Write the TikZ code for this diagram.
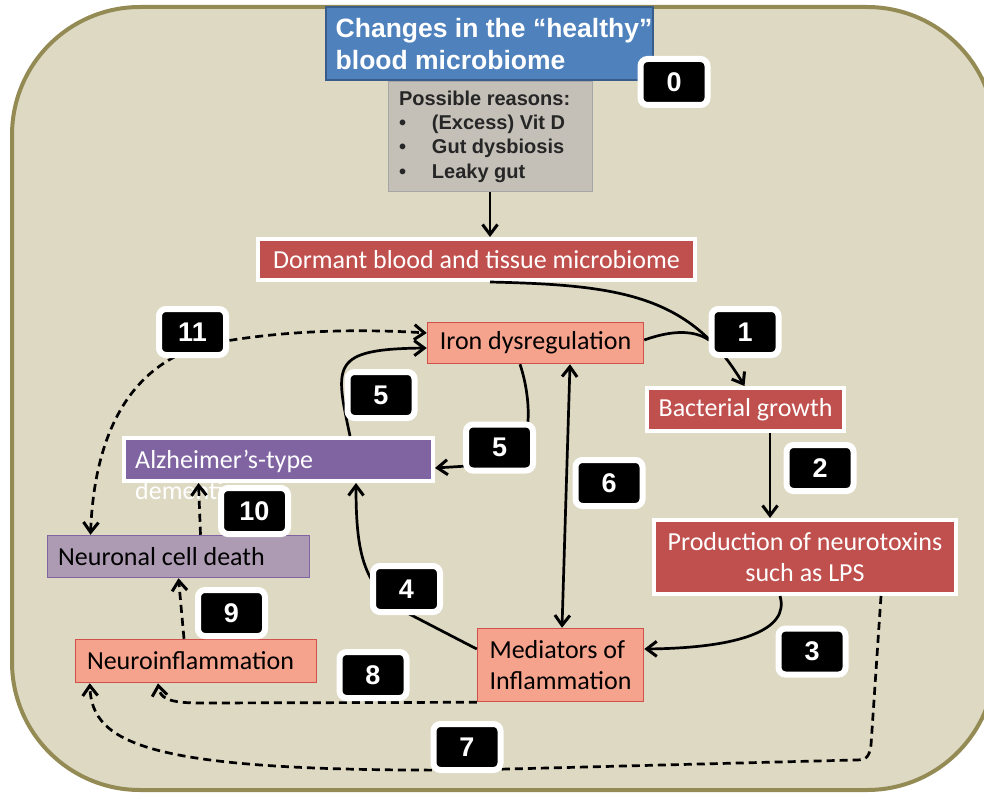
\documentclass[tikz,border=0pt]{standalone}
\usepackage{fontspec}
\setmainfont{Carlito}
\newfontfamily\arial{Liberation Sans}
\usetikzlibrary{arrows.meta,calc}
\definecolor{tanbg}{HTML}{DDD9C3}
\definecolor{olive}{HTML}{948A54}
\definecolor{tblue}{HTML}{4F81BD}
\definecolor{tblueb}{HTML}{385D8A}
\definecolor{greybox}{HTML}{C4C0B8}
\definecolor{greyb}{HTML}{A6A6A6}
\definecolor{dred}{HTML}{C0504D}
\definecolor{salmon}{HTML}{F5A38C}
\definecolor{salmonb}{HTML}{D0504D}
\definecolor{purp}{HTML}{8064A2}
\definecolor{lav}{HTML}{AD9BB3}
\begin{document}
\begin{tikzpicture}[x=1pt,y=-1pt,
  >={Straight Barb[length=10pt,width=15pt,line width=3pt]},
  body/.style={font=\fontsize{26}{31}\selectfont},
  redbox/.style={body, fill=dred, draw=white, line width=4pt, text=white, inner sep=0pt},
  pinkbox/.style={body, fill=salmon, draw=salmonb, line width=1.5pt, text=black, inner sep=0pt},
  numbox/.style={fill=black, draw=white, line width=6pt, rounded corners=7pt,
    minimum width=67pt, minimum height=46pt, inner sep=0pt, text=white,
    font=\arial\bfseries\fontsize{27}{27}\selectfont},
  conn/.style={line width=2.7pt, ->},
  dconn/.style={conn, dash pattern=on 8pt off 5pt}]
\useasboundingbox (0,0) rectangle (984,794);
\clip (0,0) rectangle (984,794);
% frame
\path[fill=tanbg, draw=olive, line width=4pt, rounded corners=128pt] (12,7) rectangle (995,790);
% boxes
\node[fill=greybox, draw=greyb, line width=1pt, minimum width=204pt, minimum height=110pt,
  text width=182pt, align=flush left, inner sep=0pt, text=black!85,
  font=\arial\bfseries\fontsize{20}{24.3}\selectfont] (reasons) at (490,136.5)
  {Possible reasons:\\\makebox[33pt][l]{•}(Excess) Vit D\\\makebox[33pt][l]{•}Gut dysbiosis\\\makebox[33pt][l]{•}Leaky gut};
\node[fill=tblue, draw=tblueb, line width=2pt, minimum width=327pt, minimum height=73pt,
  inner sep=0pt] (title) at (489.5,44) {};
\node[text=white, align=left, inner sep=0pt,
  font=\arial\bfseries\fontsize{26.5}{32}\selectfont] (titletxt) at (494,44)
  {Changes in the “healthy”\\blood microbiome};
\node[redbox, minimum width=437pt, minimum height=41pt] (dormant) at (476.5,259.5) {Dormant blood and tissue microbiome};
\node[pinkbox, minimum width=216pt, minimum height=41pt] (iron) at (535.5,343) {Iron dysregulation};
\node[redbox, minimum width=197pt, minimum height=43pt] (bact) at (745.5,409.5) {Bacterial growth};
\node[redbox, minimum width=302pt, minimum height=74pt, align=center] (prod) at (805,557) {Production of neurotoxins\\such as LPS};
\node[pinkbox, minimum width=166pt, minimum height=73pt, align=left] (med) at (560.5,665) {Mediators of\\Inflammation};
\node[pinkbox, minimum width=241pt, minimum height=43pt, text width=218pt, align=flush left] (neuroinf) at (196,661) {Neuroinflammation};
\node[fill=lav, draw=purp, line width=1.5pt, minimum width=262pt, minimum height=42pt, inner sep=0pt] (neuronal) at (178.5,556.5) {};
\node[body, text=black, inner sep=0pt, anchor=west] (neurontxt) at (58,557) {Neuronal cell death};
\node[fill=purp, draw=white, line width=4pt, minimum width=309pt, minimum height=43pt, inner sep=0pt] (alz) at (278.5,459.5) {};
\node[body, text=white, align=left, inner sep=0pt, anchor=north west] (alztxt) at (135,450) {Alzheimer’s-type\\dementia};
% connectors
\draw[conn] (reasons.south) -- (reasons.south |- dormant.north);
\draw[conn] ($(dormant.south)+(13.5,0)$) .. controls (620,285) and (690,295) .. ($(bact.north)+(-1,0)$);
\draw[line width=2.7pt] ($(iron.east)+(0,-3)$) .. controls (672,330) and (694,330) .. (709,340);
\draw[conn] ($(bact.south)+(24.5,0)$) -- ($(prod.north)+(-35,0)$);
\draw[conn] ($(prod.south)+(-25,0)$) .. controls (790,630) and (740,648) .. ($(med.east)+(0,-16)$);
\draw[conn] ($(med.west)+(0,-16)$) -- (415,617) .. controls (365,592) and (356,560) .. ($(alz.south)+(77.5,0)$);
\draw[conn] ($(iron.south)+(-15.5,0)$) .. controls (532,400) and (535,458) .. (500,464) -- ($(alz.east)+(0,8.5)$);
\draw[conn] ($(alz.north)+(71.5,0)$) .. controls (335,365) and (330,349) .. ($(iron.west)+(0,5)$);
\draw[line width=2.7pt, <->] ($(iron.south)+(34.5,0)$) -- ($(med.north)+(1.5,0)$);
\draw[dconn] ($(prod.south)+(76,0)$) -- (871,745) .. controls (869,758) and (866,760) .. (855,760) -- (470,770) .. controls (150,772) and (92,745) .. ($(neuroinf.south west)+(15,0)$);
\draw[dconn] (med.south west) -- (200,703) .. controls (168,703) and (160,698) .. ($(neuroinf.south)+(-38,0)$);
\draw[dconn] ($(neuroinf.north)+(-12,0)$) -- (neuronal.south);
\draw[dconn] ($(neuronal.north)+(22,0)$) -- ($(alz.south)+(-80,0)$);
\draw[dconn, <->] ($(neuronal.north)+(-88,0)$) .. controls (95,420) and (140,355) .. (220,342) .. controls (300,328) and (380,330) .. ($(iron.west)+(0,-10)$);
% number labels
\node[numbox] (n0) at (674,82) {0};
\node[numbox] (n1) at (745,332) {1};
\node[numbox] (n2) at (820,468) {2};
\node[numbox] (n3) at (812,651.5) {3};
\node[numbox] (n4) at (406.5,589) {4};
\node[numbox] (n5a) at (381,395) {5};
\node[numbox] (n5b) at (499.5,447.5) {5};
\node[numbox] (n6) at (609,483) {6};
\node[numbox] (n7) at (467,747) {7};
\node[numbox] (n8) at (373,675) {8};
\node[numbox] (n9) at (231.5,613) {9};
\node[numbox] (n10) at (254.5,511) {10};
\node[numbox] (n11) at (192.5,332) {11};
\end{tikzpicture}
\end{document}
